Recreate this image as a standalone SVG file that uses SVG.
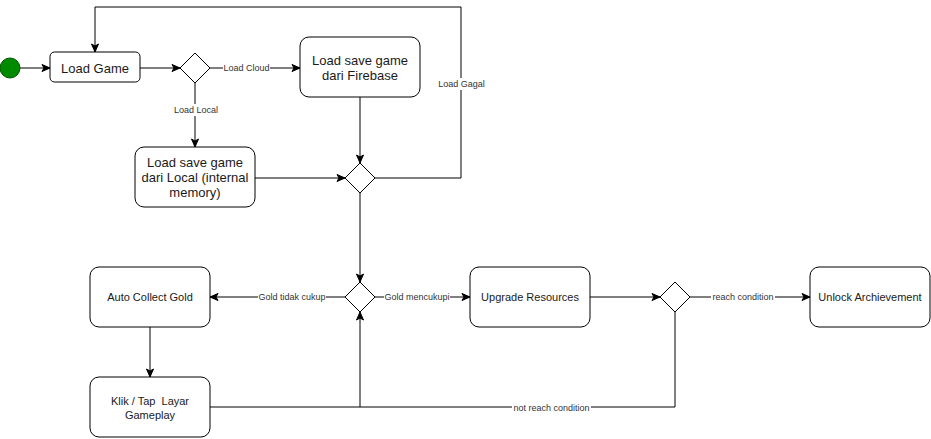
<svg xmlns="http://www.w3.org/2000/svg" width="931" height="439" viewBox="0 0 931 439">
<style>
.box{fill:#fff;stroke:#000;stroke-width:1}
.dia{fill:#fff;stroke:#000;stroke-width:1}
.edge{fill:none;stroke:#000;stroke-width:1}
.t{font-family:"Liberation Sans",Arial,sans-serif;fill:#1a1a1a;text-anchor:middle}
.t13{font-size:13px}
.t11{font-size:11px}
.lbl{font-family:"Liberation Sans",Arial,sans-serif;font-size:9px;fill:#333;text-anchor:middle}
.lbg{fill:#fff}
</style>
<defs>
<marker id="arr" markerUnits="userSpaceOnUse" markerWidth="10" markerHeight="10" viewBox="0 0 10 10" refX="9" refY="5" orient="auto">
<path d="M1,1.5 L9,5 L1,8.5 L3,5 Z" fill="#000" stroke="#000" stroke-width="1"/>
</marker>
</defs>
<rect width="931" height="439" fill="#fff"/>
<g id="connectors">
<path class="edge" d="M20,68 H50" marker-end="url(#arr)"/>
<path class="edge" d="M140,68 H180" marker-end="url(#arr)"/>
<path class="edge" d="M210,68 H300" marker-end="url(#arr)"/>
<path class="edge" d="M195,83 V147" marker-end="url(#arr)"/>
<path class="edge" d="M360,97 V163" marker-end="url(#arr)"/>
<path class="edge" d="M255,178 H345" marker-end="url(#arr)"/>
<path class="edge" d="M375,178 H461 V7 H95 V52" marker-end="url(#arr)"/>
<path class="edge" d="M360,193 V282" marker-end="url(#arr)"/>
<path class="edge" d="M345,297 H210" marker-end="url(#arr)"/>
<path class="edge" d="M375,297 H470" marker-end="url(#arr)"/>
<path class="edge" d="M590,297 H660" marker-end="url(#arr)"/>
<path class="edge" d="M690,297 H810" marker-end="url(#arr)"/>
<path class="edge" d="M150,327 V377" marker-end="url(#arr)"/>
<path class="edge" d="M210,407 H360 V312" marker-end="url(#arr)"/>
<path class="edge" d="M675,312 V407 H360"/>
<rect class="lbg" x="223" y="62" width="47" height="12"/>
<text class="lbl" x="246.5" y="71">Load Cloud</text>
<rect class="lbg" x="173" y="104" width="46" height="12"/>
<text class="lbl" x="196" y="113">Load Local</text>
<rect class="lbg" x="437" y="78" width="49" height="12"/>
<text class="lbl" x="461.5" y="87">Load Gagal</text>
<rect class="lbg" x="258" y="291" width="68" height="12"/>
<text class="lbl" x="292" y="300">Gold tidak cukup</text>
<rect class="lbg" x="384" y="291" width="66" height="12"/>
<text class="lbl" x="417" y="300">Gold mencukupi</text>
<rect class="lbg" x="711" y="291" width="64" height="12"/>
<text class="lbl" x="743" y="300">reach condition</text>
<rect class="lbg" x="512" y="402" width="79" height="12"/>
<text class="lbl" x="551.5" y="411">not reach condition</text>
</g>
<g id="start">
<circle cx="10" cy="68" r="10" fill="#008a00" stroke="#005700" stroke-width="1"/>
</g>
<g id="load-game">
<rect class="box" x="50" y="52" width="90" height="30" rx="4.5"/>
<text class="t t13" x="95" y="72.5">Load Game</text>
</g>
<g id="decision-load">
<path class="dia" d="M195,53 L210,68 L195,83 L180,68 Z"/>
</g>
<g id="load-firebase">
<rect class="box" x="300" y="37" width="120" height="60" rx="9"/>
<text class="t t13" x="360" y="65">Load save game</text>
<text class="t t13" x="360" y="80">dari Firebase</text>
</g>
<g id="load-local">
<rect class="box" x="135" y="147" width="120" height="60" rx="9"/>
<text class="t t13" x="195" y="167">Load save game</text>
<text class="t t13" x="195" y="182">dari Local (internal</text>
<text class="t t13" x="195" y="197">memory)</text>
</g>
<g id="decision-loaded">
<path class="dia" d="M360,163 L375,178 L360,193 L345,178 Z"/>
</g>
<g id="decision-gold">
<path class="dia" d="M360,282 L375,297 L360,312 L345,297 Z"/>
</g>
<g id="auto-collect">
<rect class="box" x="90" y="267" width="120" height="60" rx="9"/>
<text class="t t11" x="150" y="301">Auto Collect Gold</text>
</g>
<g id="klik-tap">
<rect class="box" x="90" y="377" width="120" height="60" rx="9"/>
<text class="t t11" x="150" y="405" xml:space="preserve">Klik / Tap  Layar</text>
<text class="t t11" x="150" y="419">Gameplay</text>
</g>
<g id="upgrade">
<rect class="box" x="470" y="267" width="120" height="60" rx="9"/>
<text class="t t11" x="530" y="301">Upgrade Resources</text>
</g>
<g id="decision-reach">
<path class="dia" d="M675,282 L690,297 L675,312 L660,297 Z"/>
</g>
<g id="unlock">
<rect class="box" x="810" y="267" width="120" height="60" rx="9"/>
<text class="t t11" x="870" y="301">Unlock Archievement</text>
</g>
</svg>
